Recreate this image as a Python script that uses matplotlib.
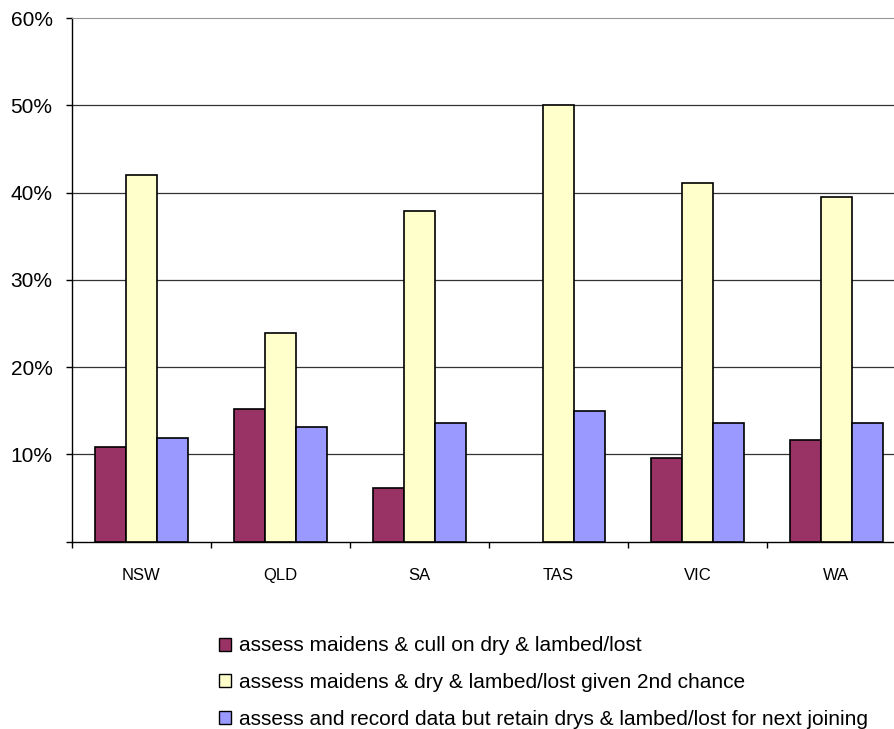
import numpy as np
import matplotlib.pyplot as plt
from matplotlib.patches import Patch

plt.rcParams['font.family'] = ['Liberation Sans', 'DejaVu Sans']

states = ['NSW', 'QLD', 'SA', 'TAS', 'VIC', 'WA']
cull = [10.8, 15.2, 6.1, 0.0, 9.6, 11.6]
second_chance = [42.0, 23.9, 37.9, 50.0, 41.1, 39.5]
retain = [11.9, 13.1, 13.6, 15.0, 13.6, 13.6]

series_labels = ['assess maidens & cull on dry & lambed/lost',
                 'assess maidens & dry & lambed/lost given 2nd chance',
                 'assess and record data but retain drys & lambed/lost for next joining']
colors = ['#993366', '#FFFFCC', '#9999FF']

fig = plt.figure(figsize=(8.95, 7.29), dpi=100)
# axes run slightly past the right edge of the figure
ax = fig.add_axes([0.0804, 0.2572, 0.9318, 0.7181])

x = np.arange(len(states)) + 0.5
w = 0.223
for k, (vals, c) in enumerate(zip([cull, second_chance, retain], colors)):
    edges = ['black' if v > 0 else 'none' for v in vals]
    ax.bar(x + (k - 1) * w, vals, width=w, color=c, edgecolor=edges,
           linewidth=1.2, zorder=3, label=series_labels[k])

for yv in range(10, 60, 10):
    ax.axhline(yv, color='#333333', linewidth=0.9, zorder=1)

ax.set_xlim(0, 6)
ax.set_ylim(0, 60)
ax.set_yticks(range(0, 70, 10))
ax.set_yticklabels([''] + [f'{v}%' for v in range(10, 70, 10)], fontsize=15)
ax.set_xticks(x)
ax.set_xticklabels(states, fontsize=12)
ax.set_xticks(np.arange(0, 7), minor=True)
ax.tick_params(axis='x', which='major', length=0, pad=19)
ax.tick_params(axis='x', which='minor', length=4, width=1, direction='out')
ax.tick_params(axis='y', length=4, width=1, direction='out', pad=10)

ax.spines['right'].set_visible(False)
ax.spines['top'].set_color('#999999')
ax.spines['left'].set_linewidth(1)
ax.spines['bottom'].set_linewidth(1)

handles = [Patch(facecolor=c, edgecolor='black', linewidth=1) for c in colors]
fig.legend(handles, series_labels, loc='upper left', bbox_to_anchor=(0.245, 0.127),
           frameon=False, fontsize=15, handlelength=0.58, handleheight=0.58,
           handletextpad=0.35, labelspacing=0.85, borderpad=0, borderaxespad=0)

fig.savefig('out.png', dpi=100)
